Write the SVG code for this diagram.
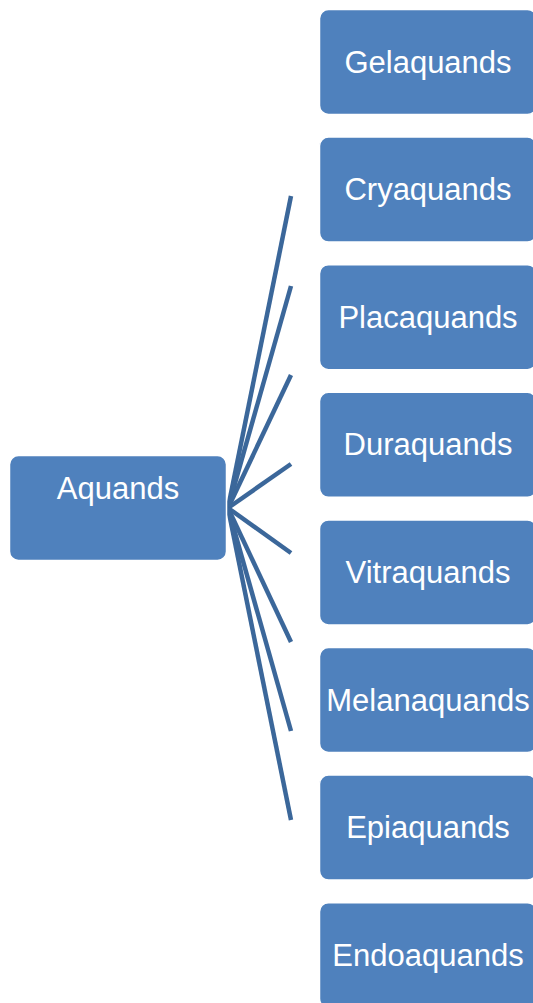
<svg xmlns="http://www.w3.org/2000/svg" width="533" height="1003" viewBox="0 0 533 1003">
<style>
.box{fill:#4f81bd;stroke:#ffffff;stroke-width:1.5}
.lbl{font-family:"Liberation Sans",Arial,sans-serif;font-size:31px;fill:#ffffff;text-anchor:middle}
.conn{stroke:#3b679a;stroke-width:4.5;fill:none;stroke-linecap:butt}
</style>
<rect width="533" height="1003" fill="#ffffff"/>
<g id="connectors">
<line class="conn" x1="228" y1="508" x2="291" y2="196"/>
<line class="conn" x1="228" y1="508" x2="291" y2="286"/>
<line class="conn" x1="228" y1="508" x2="291" y2="375"/>
<line class="conn" x1="228" y1="508" x2="291" y2="464"/>
<line class="conn" x1="228" y1="508" x2="291" y2="553"/>
<line class="conn" x1="228" y1="508" x2="291" y2="642"/>
<line class="conn" x1="228" y1="508" x2="291" y2="731"/>
<line class="conn" x1="228" y1="508" x2="291" y2="820"/>
</g>
<g id="aquands"><rect class="box" x="9.5" y="455.5" width="217" height="105" rx="9"/><text class="lbl" x="118" y="498.5">Aquands</text></g>
<g id="gelaquands"><rect class="box" x="319.5" y="9.5" width="217" height="105" rx="9"/><text class="lbl" x="428" y="72.5">Gelaquands</text></g>
<g id="cryaquands"><rect class="box" x="319.5" y="137.1" width="217" height="105" rx="9"/><text class="lbl" x="428" y="200.1">Cryaquands</text></g>
<g id="placaquands"><rect class="box" x="319.5" y="264.7" width="217" height="105" rx="9"/><text class="lbl" x="428" y="327.7">Placaquands</text></g>
<g id="duraquands"><rect class="box" x="319.5" y="392.3" width="217" height="105" rx="9"/><text class="lbl" x="428" y="455.3">Duraquands</text></g>
<g id="vitraquands"><rect class="box" x="319.5" y="519.9" width="217" height="105" rx="9"/><text class="lbl" x="428" y="582.9">Vitraquands</text></g>
<g id="melanaquands"><rect class="box" x="319.5" y="647.5" width="217" height="105" rx="9"/><text class="lbl" x="428" y="710.5">Melanaquands</text></g>
<g id="epiaquands"><rect class="box" x="319.5" y="775.1" width="217" height="105" rx="9"/><text class="lbl" x="428" y="838.1">Epiaquands</text></g>
<g id="endoaquands"><rect class="box" x="319.5" y="902.7" width="217" height="105" rx="9"/><text class="lbl" x="428" y="965.7">Endoaquands</text></g>
</svg>
